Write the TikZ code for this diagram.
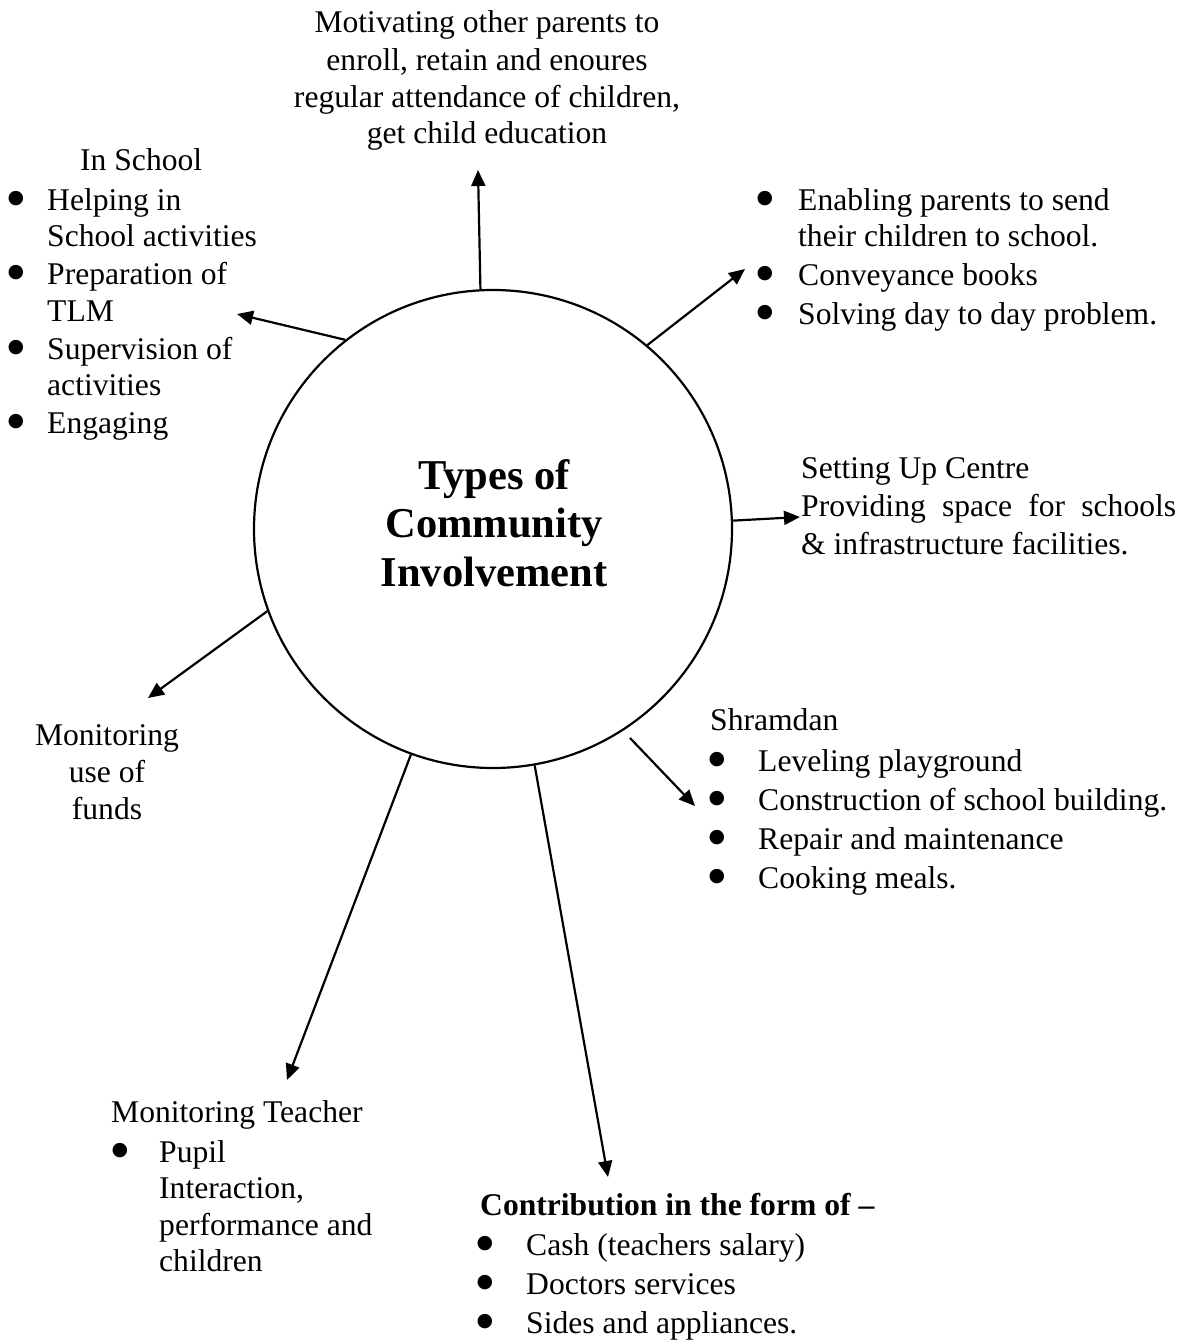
\documentclass[tikz,border=0pt]{standalone}
\usepackage{fontspec}
\setmainfont{Liberation Serif}
\newfontfamily\symfont{DejaVu Sans}
\usetikzlibrary{arrows.meta}
\begin{document}
\begin{tikzpicture}[x=1pt,y=-1pt,
  txt/.style={font=\fontsize{31.6}{37.5}\selectfont, inner sep=0pt, anchor=base west},
  ctxt/.style={txt, anchor=base},
  bul/.style={font=\symfont\fontsize{19}{19}\selectfont, inner sep=0pt, anchor=center, yshift=11pt},
  arr/.style={line width=2.2pt, -{Triangle[length=16pt,width=14pt]}}]
\useasboundingbox (0,0) rectangle (1194,1341);

% central circle
\node[circle, draw, line width=2.2pt, minimum size=478pt, inner sep=0pt] (c) at (493,529) {};
\node[font=\fontsize{42.5}{48.5}\selectfont\bfseries, align=center, inner sep=0pt] (title) at (494,523) {Types of\\Community\\Involvement};

% arrow end points
\coordinate (t1) at (478,170);
\coordinate (t2) at (237,314);
\coordinate (t3) at (745,269);
\coordinate (t4) at (800,517);
\coordinate (s5) at (630,738);
\coordinate (t5) at (695,806);
\coordinate (t6) at (148,698);
\coordinate (t7) at (287,1080);
\coordinate (t8) at (608,1177);

\draw[arr] (c.93.6) -- (t1);
\draw[arr] (c.128.7) -- (t2);
\draw[arr] (c.50.3) -- (t3);
\draw[arr] (c.2.9) -- (t4);
\draw[arr] (s5) -- (t5);
\draw[arr] (c.200.3) -- (t6);
\draw[arr] (c.250.3) -- (t7);
\draw[arr] (c.280) -- (t8);

% top
\node[ctxt] (m1) at (487,32) {Motivating other parents to};
\node[ctxt] (m2) at (487,70) {enroll, retain and enoures};
\node[ctxt] (m3) at (487,107) {regular attendance of children,};
\node[ctxt] (m4) at (487,143) {get child education};

% in school
\node[txt] (s0) at (80,170) {In School};
\node[bul] (sb1) at (16,210) {●};
\node[bul] (sb2) at (16,284) {●};
\node[bul] (sb3) at (16,359) {●};
\node[bul] (sb4) at (16,433) {●};
\node[txt] (s1) at (47,210) {Helping in};
\node[txt] (s2) at (47,246) {School activities};
\node[txt] (s3) at (47,284) {Preparation of};
\node[txt] (s4) at (47,321) {TLM};
\node[txt] (s5t) at (47,359) {Supervision of};
\node[txt] (s6) at (47,395) {activities};
\node[txt] (s7) at (47,433) {Engaging};

% enabling
\node[bul] (eb1) at (765,210) {●};
\node[bul] (eb2) at (765,285) {●};
\node[bul] (eb3) at (765,324) {●};
\node[txt] (e1) at (798,210) {Enabling parents to send};
\node[txt] (e2) at (798,246) {their children to school.};
\node[txt] (e3) at (798,285) {Conveyance books};
\node[txt] (e4) at (798,324) {Solving day to day problem.};

% setting up centre
\node[txt] (u1) at (801,478) {Setting Up Centre};
\node[txt] (u2) at (801,516) {\makebox[375pt][s]{Providing space for schools}};
\node[txt] (u3) at (801,554) {\& infrastructure facilities.};

% funds
\node[ctxt] (f1) at (107,745) {Monitoring};
\node[ctxt] (f2) at (107,782) {use of};
\node[ctxt] (f3) at (107,819) {funds};

% shramdan
\node[txt] (h0) at (710,730) {Shramdan};
\node[bul] (hb1) at (717,771) {●};
\node[bul] (hb2) at (717,810) {●};
\node[bul] (hb3) at (717,849) {●};
\node[bul] (hb4) at (717,888) {●};
\node[txt] (h1) at (758,771) {Leveling playground};
\node[txt] (h2) at (758,810) {Construction of school building.};
\node[txt] (h3) at (758,849) {Repair and maintenance};
\node[txt] (h4) at (758,888) {Cooking meals.};

% teacher
\node[txt] (p0) at (111,1122) {Monitoring Teacher};
\node[bul] (pb1) at (120,1162) {●};
\node[txt] (p1) at (159,1162) {Pupil};
\node[txt] (p2) at (159,1198) {Interaction,};
\node[txt] (p3) at (159,1235) {performance and};
\node[txt] (p4) at (159,1271) {children};

% contribution
\node[txt, font=\fontsize{31.6}{37.5}\selectfont\bfseries] (k0) at (480,1215) {Contribution in the form of –};
\node[bul] (kb1) at (485,1255) {●};
\node[bul] (kb2) at (485,1294) {●};
\node[bul] (kb3) at (485,1333) {●};
\node[txt] (k1) at (526,1255) {Cash (teachers salary)};
\node[txt] (k2) at (526,1294) {Doctors services};
\node[txt] (k3) at (526,1333) {Sides and appliances.};
\end{tikzpicture}
\end{document}
